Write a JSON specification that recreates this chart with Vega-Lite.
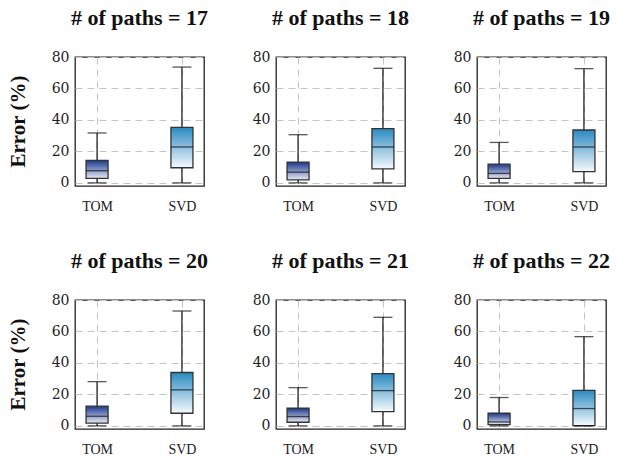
{
  "$schema": "https://vega.github.io/schema/vega-lite/v6.json",
  "background": "white",
  "padding": {"left": 7, "top": 7, "right": 5, "bottom": 0},
  "datasets": {
    "box": [
      {"paths": 17, "grp": 1, "method": "TOM", "min": 0, "q1": 2.8, "median": 7.7, "q3": 14.3, "max": 31.7},
      {"paths": 17, "grp": 1, "method": "SVD", "min": 0, "q1": 9.6, "median": 22.8, "q3": 35.3, "max": 73.6},
      {"paths": 18, "grp": 1, "method": "TOM", "min": 0, "q1": 1.9, "median": 6.8, "q3": 13.2, "max": 30.6},
      {"paths": 18, "grp": 1, "method": "SVD", "min": 0, "q1": 8.9, "median": 22.8, "q3": 34.5, "max": 72.8},
      {"paths": 19, "grp": 1, "method": "TOM", "min": 0, "q1": 2.8, "median": 6.0, "q3": 11.9, "max": 25.7},
      {"paths": 19, "grp": 1, "method": "SVD", "min": 0, "q1": 7.2, "median": 22.8, "q3": 33.6, "max": 72.6},
      {"paths": 20, "grp": 2, "method": "TOM", "min": 0, "q1": 1.7, "median": 6.1, "q3": 12.5, "max": 28.1},
      {"paths": 20, "grp": 2, "method": "SVD", "min": 0, "q1": 8.0, "median": 22.9, "q3": 33.9, "max": 73.0},
      {"paths": 21, "grp": 2, "method": "TOM", "min": 0, "q1": 2.3, "median": 5.9, "q3": 11.2, "max": 24.3},
      {"paths": 21, "grp": 2, "method": "SVD", "min": 0, "q1": 9.1, "median": 22.4, "q3": 33.2, "max": 69.0},
      {"paths": 22, "grp": 2, "method": "TOM", "min": 0, "q1": 0.8, "median": 2.5, "q3": 8.0, "max": 18.0},
      {"paths": 22, "grp": 2, "method": "SVD", "min": 0, "q1": 0.2, "median": 11.0, "q3": 22.6, "max": 56.7}
    ]
  },
  "spacing": 37,
  "vconcat": [
    {
      "data": {"name": "box"},
      "transform": [{"filter": "datum.grp == 1"}],
      "facet": {
        "row": {"field": "grp", "type": "nominal", "header": {"title": null, "labelExpr": "'Error (%)'", "labelAngle": -90, "labelOrient": "left", "labelAlign": "center", "labelFont": "Liberation Serif", "labelFontWeight": "bold", "labelFontSize": 21, "labelColor": "#111", "labelPadding": 10}},
        "column": {"field": "paths", "type": "ordinal", "header": {"title": null, "labelExpr": "'# of paths = ' + datum.value", "labelFont": "Liberation Serif", "labelFontWeight": "bold", "labelFontSize": 22, "labelColor": "#111", "labelPadding": 19}}
      },
      "spacing": {"column": 46},
      "resolve": {"axis": {"y": "independent"}},
      "spec": {
        "width": 129,
        "height": 129,
        "encoding": {
          "x": {"field": "method", "type": "nominal", "sort": ["TOM", "SVD"], "scale": {"type": "point", "padding": 0.26}, "title": null}
        },
        "layer": [
          {"mark": {"type": "rule", "color": "#111", "strokeWidth": 1.2}, "encoding": {"y": {"field": "min", "type": "quantitative", "scale": {"domain": [-2, 80], "nice": false}, "title": null}, "y2": {"field": "max"}}},
          {"transform": [{"filter": "datum.method == 'TOM'"}], "mark": {"type": "bar", "size": 22, "fill": {"gradient": "linear", "x1": 0, "y1": 0, "x2": 0, "y2": 1, "stops": [{"offset": 0, "color": "#1c388c"}, {"offset": 1, "color": "#e4e9f4"}]}, "stroke": "#333", "strokeWidth": 1.3}, "encoding": {"y": {"field": "q1", "type": "quantitative", "title": null}, "y2": {"field": "q3"}}},
          {"transform": [{"filter": "datum.method == 'SVD'"}], "mark": {"type": "bar", "size": 22, "fill": {"gradient": "linear", "x1": 0, "y1": 0, "x2": 0, "y2": 1, "stops": [{"offset": 0, "color": "#2a8ac2"}, {"offset": 1, "color": "#f6fafd"}]}, "stroke": "#333", "strokeWidth": 1.3}, "encoding": {"y": {"field": "q1", "type": "quantitative", "title": null}, "y2": {"field": "q3"}}},
          {"mark": {"type": "tick", "size": 22, "thickness": 1.3, "color": "#111"}, "encoding": {"y": {"field": "median", "type": "quantitative", "title": null}}},
          {"mark": {"type": "tick", "size": 19, "thickness": 1.3, "color": "#111"}, "encoding": {"y": {"field": "min", "type": "quantitative", "title": null}}},
          {"mark": {"type": "tick", "size": 19, "thickness": 1.3, "color": "#111"}, "encoding": {"y": {"field": "max", "type": "quantitative", "title": null}}}
        ]
      }
    },
    {
      "data": {"name": "box"},
      "transform": [{"filter": "datum.grp == 2"}],
      "facet": {
        "row": {"field": "grp", "type": "nominal", "header": {"title": null, "labelExpr": "'Error (%)'", "labelAngle": -90, "labelOrient": "left", "labelAlign": "center", "labelFont": "Liberation Serif", "labelFontWeight": "bold", "labelFontSize": 21, "labelColor": "#111", "labelPadding": 10}},
        "column": {"field": "paths", "type": "ordinal", "header": {"title": null, "labelExpr": "'# of paths = ' + datum.value", "labelFont": "Liberation Serif", "labelFontWeight": "bold", "labelFontSize": 22, "labelColor": "#111", "labelPadding": 19}}
      },
      "spacing": {"column": 46},
      "resolve": {"axis": {"y": "independent"}},
      "spec": {
        "width": 129,
        "height": 129,
        "encoding": {
          "x": {"field": "method", "type": "nominal", "sort": ["TOM", "SVD"], "scale": {"type": "point", "padding": 0.26}, "title": null}
        },
        "layer": [
          {"mark": {"type": "rule", "color": "#111", "strokeWidth": 1.2}, "encoding": {"y": {"field": "min", "type": "quantitative", "scale": {"domain": [-2, 80], "nice": false}, "title": null}, "y2": {"field": "max"}}},
          {"transform": [{"filter": "datum.method == 'TOM'"}], "mark": {"type": "bar", "size": 22, "fill": {"gradient": "linear", "x1": 0, "y1": 0, "x2": 0, "y2": 1, "stops": [{"offset": 0, "color": "#1c388c"}, {"offset": 1, "color": "#e4e9f4"}]}, "stroke": "#333", "strokeWidth": 1.3}, "encoding": {"y": {"field": "q1", "type": "quantitative", "title": null}, "y2": {"field": "q3"}}},
          {"transform": [{"filter": "datum.method == 'SVD'"}], "mark": {"type": "bar", "size": 22, "fill": {"gradient": "linear", "x1": 0, "y1": 0, "x2": 0, "y2": 1, "stops": [{"offset": 0, "color": "#2a8ac2"}, {"offset": 1, "color": "#f6fafd"}]}, "stroke": "#333", "strokeWidth": 1.3}, "encoding": {"y": {"field": "q1", "type": "quantitative", "title": null}, "y2": {"field": "q3"}}},
          {"mark": {"type": "tick", "size": 22, "thickness": 1.3, "color": "#111"}, "encoding": {"y": {"field": "median", "type": "quantitative", "title": null}}},
          {"mark": {"type": "tick", "size": 19, "thickness": 1.3, "color": "#111"}, "encoding": {"y": {"field": "min", "type": "quantitative", "title": null}}},
          {"mark": {"type": "tick", "size": 19, "thickness": 1.3, "color": "#111"}, "encoding": {"y": {"field": "max", "type": "quantitative", "title": null}}}
        ]
      }
    }
  ],
  "config": {
    "view": {"stroke": "#222", "strokeWidth": 1.3},
    "axis": {"grid": true, "gridDash": [7, 5], "gridColor": "#c4c4c4", "gridWidth": 1, "domain": false, "ticks": false, "labelColor": "#222"},
    "axisY": {"values": [0, 20, 40, 60, 80], "labelFont": "DejaVu Serif", "labelFontSize": 14, "labelPadding": 6},
    "axisX": {"labelFont": "Liberation Serif", "labelFontSize": 14, "labelAngle": 0, "labelPadding": 8}
  }
}
